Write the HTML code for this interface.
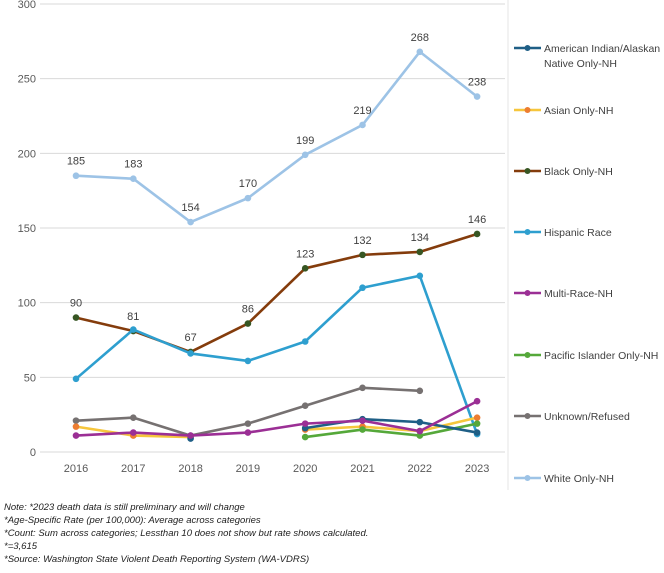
<!DOCTYPE html>
<html><head><meta charset="utf-8"><style>
body{margin:0;background:#fff;font-family:"Liberation Sans",sans-serif;}
svg text{font-family:"Liberation Sans",sans-serif;}
</style></head><body>
<svg id="chart" width="664" height="568" xmlns="http://www.w3.org/2000/svg"></svg>
<script>
const years=[2016,2017,2018,2019,2020,2021,2022,2023];
const yTicks=[0,50,100,150,200,250,300];
const aian=[null,null,9,null,16,22,20,13];
const asian=[17,11,10,null,15,17,14,23];
const black=[90,81,67,86,123,132,134,146];
const hispanic=[49,82,66,61,74,110,118,12];
const multi=[11,13,11,13,19,21,14,34];
const pacific=[null,null,null,null,10,15,11,19];
const unknown=[21,23,11,19,31,43,41,null];
const white=[185,183,154,170,199,219,268,238];
const blackLabels=[90,81,67,86,123,132,134,146];
const whiteLabels=[185,183,154,170,199,219,268,238];
const seriesNames=["American Indian/Alaskan|Native Only-NH","Asian Only-NH","Black Only-NH","Hispanic Race","Multi-Race-NH","Pacific Islander Only-NH","Unknown/Refused","White Only-NH"];
const notes=["Note: *2023 death data is still preliminary and will change","*Age-Specific Rate (per 100,000): Average across categories","*Count: Sum across categories; Lessthan 10 does not show but rate shows calculated.","*=3,615","*Source: Washington State Violent Death Reporting System (WA-VDRS)"];

const svg=document.getElementById('chart');
const NS="http://www.w3.org/2000/svg";
function mk(t,a,p){const e=document.createElementNS(NS,t);for(const k in a)e.setAttribute(k,a[k]);(p||svg).appendChild(e);return e;}
const X=i=>76+i*57.3;
const Y=v=>452-v*(448/300);

yTicks.forEach(t=>{
  const l=mk('line',{x1:40,x2:505,y1:Y(t),y2:Y(t),stroke:'#d9d9d9','stroke-width':1});
  
  
  const tx=mk('text',{x:36,y:Y(t)+4,'text-anchor':'end','font-size':11,fill:'#595959'});
  tx.textContent=t;
  
  
});
years.forEach((y,i)=>{
  const tx=mk('text',{x:X(i),y:472,'text-anchor':'middle','font-size':11,fill:'#595959'});
  tx.textContent=y;
  
  
});
const sep=mk('line',{x1:508,x2:508,y1:0,y2:490,stroke:'#e6e6e6','stroke-width':1});



const series=[
 {d:unknown,c:'#767171',m:'#767171'},
 {d:white,c:'#9dc3e6',m:'#9dc3e6'},
 {d:black,c:'#843c0c',m:'#375623'},
 {d:hispanic,c:'#2e9fcf',m:'#2e9fcf'},
 {d:asian,c:'#f6c63c',m:'#ed7d31'},
 {d:pacific,c:'#55a83a',m:'#55a83a'},
 {d:aian,c:'#1f5f86',m:'#1f5f86'},
 {d:multi,c:'#9b2f95',m:'#9b2f95'}
];
const keys=['unknown','white','black','hispanic','asian','pacific','aian','multi'];
series.forEach((s,si)=>{
  const g=mk('g',{});
  
  
  let segs=[],cur=[];
  s.d.forEach((v,i)=>{if(v==null){if(cur.length)segs.push(cur);cur=[];}else cur.push([X(i),Y(v)]);});
  if(cur.length)segs.push(cur);
  segs.forEach(sg=>{if(sg.length>1){const p=mk('polyline',{points:sg.map(p=>p.join(',')).join(' '),fill:'none',stroke:s.c,'stroke-width':2.6,'stroke-linejoin':'round'},g);
    
    }});
  s.d.forEach((v,i)=>{if(v==null)return;
    const c=mk('circle',{cx:X(i),cy:Y(v),r:3.3,fill:s.m},g);
    
    });
});
function labels(arr,vals,key){arr.forEach((v,i)=>{
  const t=mk('text',{x:X(i),y:Y(vals[i])-11,'text-anchor':'middle','font-size':11,fill:'#404040'});
  t.textContent=v;
  
  });}
labels(whiteLabels,white,'white');
labels(blackLabels,black,'black');

const legC=[['#1f5f86','#1f5f86'],['#f6c63c','#ed7d31'],['#843c0c','#375623'],['#2e9fcf','#2e9fcf'],['#9b2f95','#9b2f95'],['#55a83a','#55a83a'],['#767171','#767171'],['#9dc3e6','#9dc3e6']];
const legY=[48,110,171,232,293,355,416,478];
seriesNames.forEach((n,i)=>{
  const g=mk('g',{});
  
  
  mk('line',{x1:514,x2:541,y1:legY[i],y2:legY[i],stroke:legC[i][0],'stroke-width':2.6},g);
  mk('circle',{cx:527.5,cy:legY[i],r:3,fill:legC[i][1]},g);
  const parts=n.split('|');
  parts.forEach((p,j)=>{const t=mk('text',{x:544,y:legY[i]+4+j*15,'font-size':10.5,fill:'#404040'},g);t.textContent=p;});
});
notes.forEach((n,i)=>{
  const t=mk('text',{x:4,y:510+i*13,'font-size':9.5,'font-style':'italic',fill:'#222'});
  t.textContent=n;
  
  
});
</script>
</body></html>
